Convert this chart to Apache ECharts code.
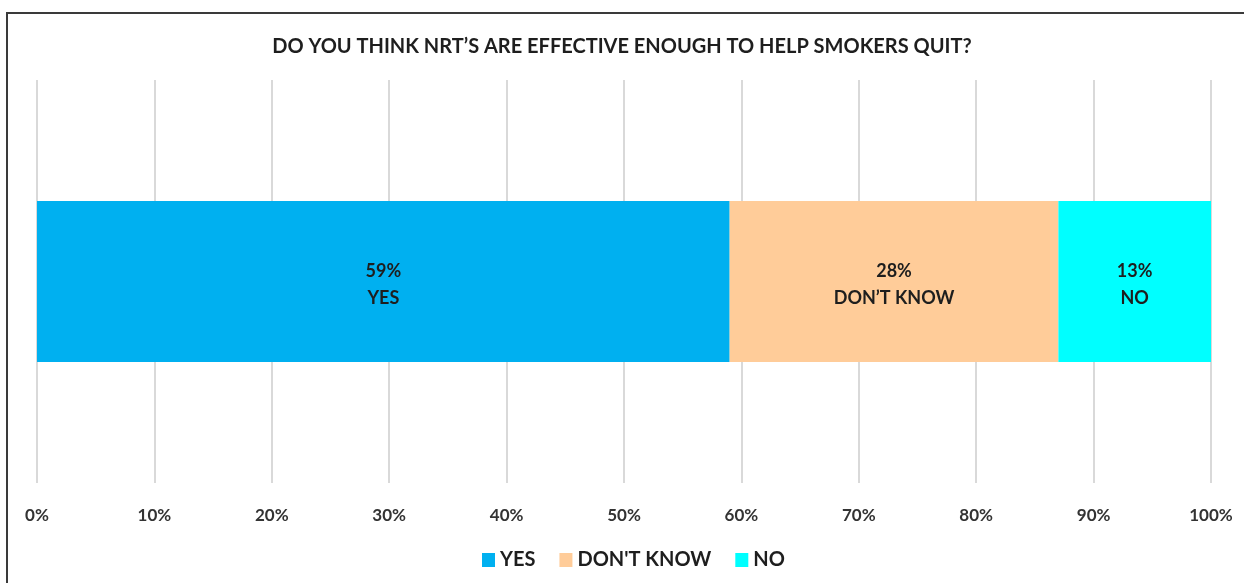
<!DOCTYPE html>
<html>
<head>
<meta charset="utf-8">
<script src="https://cdn.jsdelivr.net/npm/echarts@6/dist/echarts.min.js"></script>
<style>
html,body{margin:0;padding:0;background:#fff;}
#c{width:1244px;height:583px;}
</style>
</head>
<body>
<div id="c"></div>
<script>
const categories = ['Q'];
const seriesNames = ['YES', "DON'T KNOW", 'NO'];
const labelNames = ['YES', 'DON’T KNOW', 'NO'];
const values = [59, 28, 13];
const colors = ['#00B0F0', '#FFCC99', '#00FFFF'];
const tickFormat = '{value}%';

const font = 'Lato, "Open Sans", sans-serif';
const chart = echarts.init(document.getElementById('c'));
chart.setOption({
  animation: false,
  backgroundColor: '#fff',
  title: {
    text: 'DO YOU THINK NRT’S ARE EFFECTIVE ENOUGH TO HELP SMOKERS QUIT?',
    left: 'center', top: 32,
    textStyle: {fontFamily: font, fontSize: 20, fontWeight: 'bold', color: '#1e1e1e'}
  },
  graphic: [{
    type: 'rect', shape: {x: 7, y: 13, width: 1400, height: 800},
    style: {fill: 'none', stroke: '#3a3a3a', lineWidth: 2}, silent: true
  }],
  legend: {
    top: 545, left: 477, itemWidth: 13, itemHeight: 14, itemGap: 24,
    icon: 'rect',
    textStyle: {fontFamily: font, fontSize: 20, fontWeight: 'bold', color: '#1e1e1e'},
    data: seriesNames
  },
  grid: {left: 37, right: 33, top: 80, bottom: 100},
  xAxis: {
    type: 'value', min: 0, max: 100, interval: 10,
    axisLine: {show: false}, axisTick: {show: false},
    splitLine: {lineStyle: {color: '#d9d9d9', width: 2}},
    axisLabel: {formatter: tickFormat, margin: 24, fontFamily: font, fontSize: 17, fontWeight: 'bold', color: '#333333'}
  },
  yAxis: {
    type: 'category', data: categories, show: false
  },
  series: seriesNames.map((n, i) => ({
    name: n, type: 'bar', stack: 'total', barWidth: 161,
    itemStyle: {color: colors[i]},
    data: [values[i]],
    label: {
      show: true, position: 'inside', offset: [0, 3],
      formatter: (p) => p.value + '%\n' + labelNames[i],
      fontFamily: font, fontSize: 18, fontWeight: 'bold', color: '#1e1e1e', lineHeight: 27
    }
  }))
});
</script>
</body>
</html>
